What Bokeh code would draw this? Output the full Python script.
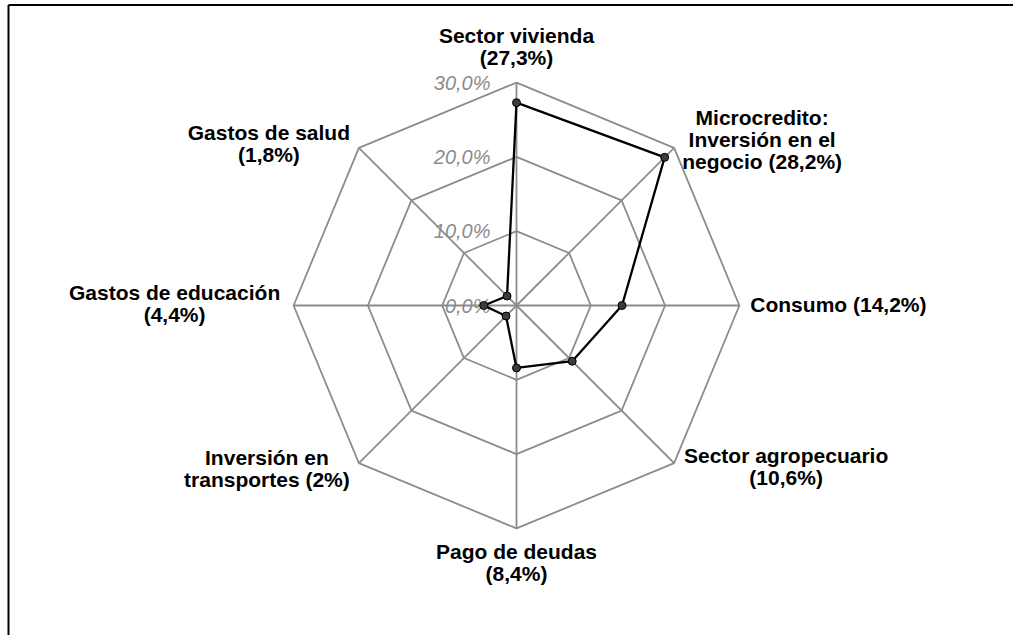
import math
from bokeh.plotting import figure
from bokeh.models import Range1d
from bokeh.embed import file_html
from bokeh.resources import INLINE
from bokeh.core.properties import value

# ---------------- data ----------------
categories = [
    "Sector vivienda\n(27,3%)",
    "Microcredito:\nInversión en el\nnegocio (28,2%)",
    "Consumo (14,2%)",
    "Sector agropecuario\n(10,6%)",
    "Pago de deudas\n(8,4%)",
    "Inversión en\ntransportes (2%)",
    "Gastos de educación\n(4,4%)",
    "Gastos de salud\n(1,8%)",
]
values = [27.3, 28.2, 14.2, 10.6, 8.4, 2.0, 4.4, 1.8]
ring_values = [10, 20, 30]
tick_values = [0, 10, 20, 30]
tick_labels = ["0,0%", "10,0%", "20,0%", "30,0%"]

# ---------------- layout ----------------
W, H = 1013, 635
K = 7.43                  # pixels per percentage point
CX, CY = 516, 305         # centre of the radar inside the figure (px)
R_MAX = max(ring_values)

# label block offsets from the outer vertex, in pixels (dx, first-line dy downwards)
label_offsets = [(0, -47), (88, -30), (99, -1), (112, -8),
                 (0, 23), (-92, -6), (-119, -13), (-90, -15)]
LINE_STEP = 22

n = len(categories)
angles = [math.pi / 2 - 2 * math.pi * i / n for i in range(n)]


def pt(r, a):
    return r * math.cos(a), r * math.sin(a)


def px(sx, sy):
    """screen pixel -> data coordinates"""
    return (sx - CX) / K, (CY - sy) / K


p = figure(width=W, height=H, output_backend="svg", toolbar_location=None,
           x_axis_type=None, y_axis_type=None, min_border=0,
           x_range=Range1d(-CX / K, (W - CX) / K),
           y_range=Range1d(-(H - CY) / K, CY / K))
p.grid.visible = False
p.outline_line_color = None
p.background_fill_color = "white"
p.border_fill_color = "white"

GRID = "#8c8c8c"
for rv in ring_values:
    xs = [pt(rv, a)[0] for a in angles] + [pt(rv, angles[0])[0]]
    ys = [pt(rv, a)[1] for a in angles] + [pt(rv, angles[0])[1]]
    p.line(xs, ys, line_color=GRID, line_width=1.8)
for a in angles:
    x1, y1 = pt(R_MAX, a)
    p.line([0, x1], [0, y1], line_color=GRID, line_width=1.8)

p.text(x=[-26 / K] * len(tick_values), y=tick_values, text=tick_labels,
       text_align="right", text_baseline="middle",
       text_font=value("Liberation Sans"), text_font_style="italic",
       text_font_size="20px", text_color="#8c8c8c")

dx = [pt(v, a)[0] for v, a in zip(values, angles)]
dy = [pt(v, a)[1] for v, a in zip(values, angles)]
p.line(dx + [dx[0]], dy + [dy[0]], line_color="black", line_width=2.3)
p.scatter(dx, dy, size=8, fill_color="#3c3c3c", line_color="black", line_width=1)

lx, ly, lt = [], [], []
for lab, a, (ox, oy) in zip(categories, angles, label_offsets):
    vx, vy = pt(R_MAX, a)
    for j, line in enumerate(lab.split("\n")):
        lx.append(vx + ox / K)
        ly.append(vy - (oy + j * LINE_STEP) / K)
        lt.append(line)
p.text(x=lx, y=ly, text=lt, text_align="center", text_baseline="middle",
       text_font=value("Liberation Sans"), text_font_style="bold",
       text_font_size="21px", text_color="black")

# chart border: only top and left edges are visible in the frame
tl = px(8, 4.5)
tr = px(W + 5, 4.5)
bl = px(8, H + 5)
p.segment(x0=[tl[0], tl[0]], y0=[tl[1], tl[1]], x1=[tr[0], bl[0]], y1=[tr[1], bl[1]],
          line_color="black", line_width=2)

open("out.html", "w").write(file_html(p, INLINE))
